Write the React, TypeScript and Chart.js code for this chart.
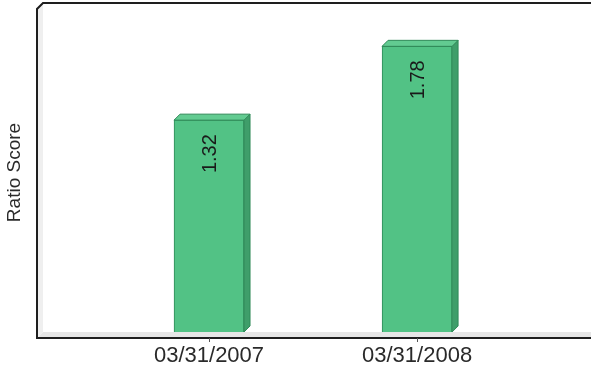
import React, { useEffect, useRef } from "react";
import { Chart, registerables } from "chart.js";

Chart.register(...registerables);

// Fiscal period end dates and their ratio scores
const periods = ["03/31/2007", "03/31/2008"];
const ratioScores = [1.32, 1.78];
const yAxisTitle = "Ratio Score";

const FONT = "'Liberation Sans', Arial, Helvetica, sans-serif";
const DEPTH = 6;

// Draws the 3D frame (left wall, floor, outline), tick marks and axis title
const framePlugin = {
  id: "frame3d",
  beforeDatasetsDraw(chart: any) {
    const { ctx, chartArea } = chart;
    const { left, top, bottom } = chartArea;
    const right = chart.width;
    const fl = left - DEPTH; // front-plane left
    const fb = bottom + DEPTH; // front-plane bottom
    ctx.save();
    // floor
    ctx.fillStyle = "#e6e6e6";
    ctx.beginPath();
    ctx.moveTo(fl, fb);
    ctx.lineTo(left, bottom);
    ctx.lineTo(right, bottom);
    ctx.lineTo(right, fb);
    ctx.closePath();
    ctx.fill();
    // left wall
    ctx.fillStyle = "#efefef";
    ctx.beginPath();
    ctx.moveTo(fl, top + DEPTH);
    ctx.lineTo(left, top);
    ctx.lineTo(left, bottom);
    ctx.lineTo(fl, fb);
    ctx.closePath();
    ctx.fill();
    // outline
    ctx.strokeStyle = "#1e1e1e";
    ctx.lineWidth = 2;
    ctx.beginPath();
    ctx.moveTo(right, top);
    ctx.lineTo(left, top);
    ctx.lineTo(fl, top + DEPTH);
    ctx.lineTo(fl, fb);
    ctx.lineTo(right, fb);
    ctx.stroke();
    // category tick marks
    const xs = chart.scales.x;
    ctx.strokeStyle = "#555";
    ctx.lineWidth = 1;
    ratioScores.forEach((_, i) => {
      const px = Math.round(xs.getPixelForValue(i)) + 0.5;
      ctx.beginPath();
      ctx.moveTo(px, fb);
      ctx.lineTo(px, fb + 4);
      ctx.stroke();
    });
    // y axis title
    ctx.save();
    ctx.translate(15, (top + fb) / 2 + 2);
    ctx.rotate(-Math.PI / 2);
    ctx.fillStyle = "#2a2a2a";
    ctx.font = `19px ${FONT}`;
    ctx.textAlign = "center";
    ctx.textBaseline = "middle";
    ctx.fillText(yAxisTitle, 0, 0);
    ctx.restore();
    ctx.restore();
  },
};

// Adds the top and side faces of each bar plus the rotated value label
const barFacesPlugin = {
  id: "barFaces",
  afterDatasetsDraw(chart: any) {
    const { ctx } = chart;
    const meta = chart.getDatasetMeta(0);
    ctx.save();
    meta.data.forEach((bar: any, i: number) => {
      const { x, y, base, width } = bar.getProps(["x", "y", "base", "width"], true);
      const l = x - width / 2;
      const r = x + width / 2;
      ctx.lineWidth = 1;
      ctx.strokeStyle = "#2f8a58";
      // side face
      ctx.fillStyle = "#3f9e6a";
      ctx.beginPath();
      ctx.moveTo(r, y);
      ctx.lineTo(r + DEPTH, y - DEPTH);
      ctx.lineTo(r + DEPTH, base - DEPTH);
      ctx.lineTo(r, base);
      ctx.closePath();
      ctx.fill();
      ctx.stroke();
      // top face
      ctx.fillStyle = "#62cb91";
      ctx.beginPath();
      ctx.moveTo(l, y);
      ctx.lineTo(l + DEPTH, y - DEPTH);
      ctx.lineTo(r + DEPTH, y - DEPTH);
      ctx.lineTo(r, y);
      ctx.closePath();
      ctx.fill();
      ctx.stroke();
      // value label
      ctx.save();
      ctx.translate(x, y + 14);
      ctx.rotate(-Math.PI / 2);
      ctx.fillStyle = "#1a1a1a";
      ctx.font = `20px ${FONT}`;
      ctx.textAlign = "right";
      ctx.textBaseline = "middle";
      ctx.fillText(ratioScores[i].toFixed(2), 0, 1);
      ctx.restore();
    });
    ctx.restore();
  },
};

export default function App() {
  const canvasRef = useRef<HTMLCanvasElement | null>(null);

  useEffect(() => {
    if (!canvasRef.current) return;
    const chart = new Chart(canvasRef.current, {
      type: "bar",
      data: {
        datasets: [
          {
            data: ratioScores.map((v, i) => ({ x: i, y: v })),
            backgroundColor: "#52c285",
            borderColor: "#2f8a58",
            borderWidth: 1,
            barThickness: 70,
          },
        ],
      },
      options: {
        animation: false,
        responsive: false,
        events: [],
        layout: { padding: { top: 3, right: 0, left: 0, bottom: 0 } },
        plugins: { legend: { display: false }, tooltip: { enabled: false } },
        scales: {
          x: {
            type: "linear",
            offset: false,
            min: -0.798,
            max: 1.836,
            grid: { display: false },
            border: { display: false },
            afterBuildTicks: (scale: any) => {
              scale.ticks = periods.map((_, i) => ({ value: i }));
            },
            afterFit: (scale: any) => {
              scale.height = 38;
            },
            ticks: {
              autoSkip: false,
              maxRotation: 0,
              padding: 3,
              color: "#2a2a2a",
              font: { family: FONT, size: 22 },
              callback: (v: any) => periods[v] ?? "",
            },
          },
          y: {
            min: 0,
            max: 2.05,
            grid: { display: false },
            border: { display: false },
            ticks: { display: false },
            afterFit: (scale: any) => {
              scale.width = 43;
            },
          },
        },
      },
      plugins: [framePlugin, barFacesPlugin],
    });
    return () => chart.destroy();
  }, []);

  return (
    <div style={{ position: "fixed", left: 0, top: 0, width: 591, height: 370, background: "#fff" }}>
      <canvas ref={canvasRef} width={591} height={370} />
    </div>
  );
}
